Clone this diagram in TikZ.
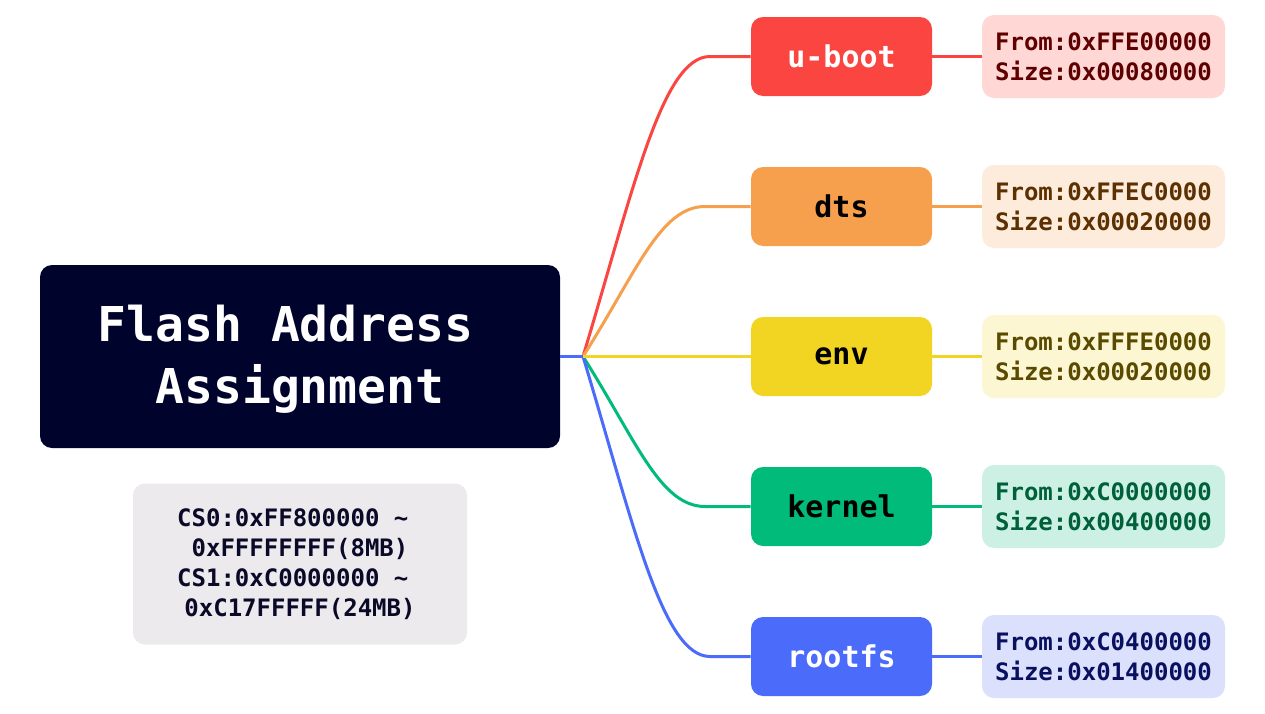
\documentclass[tikz,border=0pt]{standalone}
\usepackage{fontspec}
\setmonofont{DejaVu Sans Mono}
\begin{document}
\begin{tikzpicture}[x=0.75pt,y=-0.75pt,
  every node/.style={font=\ttfamily\bfseries, inner sep=0pt},
  rootbox/.style={fill=rootc, rounded corners=9pt, minimum width=390pt, minimum height=137.25pt},
  roottext/.style={text=white, font=\ttfamily\bfseries\fontsize{36pt}{46.5pt}\selectfont, align=center},
  childbox/.style={rounded corners=9pt, minimum width=135.75pt, minimum height=59.25pt, font=\ttfamily\bfseries\fontsize{22.5pt}{27pt}\selectfont},
  infobox/.style={rounded corners=9pt, minimum width=182.25pt, minimum height=62.25pt, font=\ttfamily\bfseries\fontsize{18pt}{22.5pt}\selectfont, align=left},
  notebox/.style={fill=notec, text=notet, rounded corners=9pt, minimum width=250.5pt, minimum height=120.75pt, font=\ttfamily\bfseries\fontsize{18pt}{22.5pt}\selectfont, align=center},
  branch/.style={line width=2.25pt},
  link/.style={line width=2.25pt}
]
\definecolor{rootc}{HTML}{00032B}
\definecolor{notec}{HTML}{ECEAED}
\definecolor{notet}{HTML}{0A0A28}
\definecolor{cA}{HTML}{FA4540}\definecolor{bA}{HTML}{FFD8D6}\definecolor{tA}{HTML}{5E0000}
\definecolor{cB}{HTML}{F6A04D}\definecolor{bB}{HTML}{FDEBDC}\definecolor{tB}{HTML}{5C3000}
\definecolor{cC}{HTML}{F2D423}\definecolor{bC}{HTML}{FCF6D3}\definecolor{tC}{HTML}{5A4A00}
\definecolor{cD}{HTML}{00BB7A}\definecolor{bD}{HTML}{CCF1E4}\definecolor{tD}{HTML}{00603A}
\definecolor{cE}{HTML}{4B6BFB}\definecolor{bE}{HTML}{DBE0FD}\definecolor{tE}{HTML}{0A1060}

\useasboundingbox[fill=white] (0,0) rectangle (1265,714);

\node[rootbox] (root) at (300,356.5) {};
\node[roottext] (rootlabel) at (300,359.5) {Flash Address\phantom{x}\\Assignment};
\node[notebox] (note) at (300,564) {CS0:0xFF800000 \textasciitilde\phantom{x}\\0xFFFFFFFF(8MB)\\CS1:0xC0000000 \textasciitilde\phantom{x}\\0xC17FFFFF(24MB)};

\coordinate (hub) at (583,356.5);

\node[childbox, fill=cA, text=white] (uboot) at (841.5,56.5) {u-boot};
\node[childbox, fill=cB, text=black] (dts) at (841.5,206.5) {dts};
\node[childbox, fill=cC, text=black] (env) at (841.5,356.5) {env};
\node[childbox, fill=cD, text=black] (kernel) at (841.5,506.5) {kernel};
\node[childbox, fill=cE, text=white] (rootfs) at (841.5,656.5) {rootfs};

\node[infobox, fill=bA, text=tA] (iA) at (1103.5,56.5) {From:0xFFE00000\\Size:0x00080000};
\node[infobox, fill=bB, text=tB] (iB) at (1103.5,206.5) {From:0xFFEC0000\\Size:0x00020000};
\node[infobox, fill=bC, text=tC] (iC) at (1103.5,356.5) {From:0xFFFE0000\\Size:0x00020000};
\node[infobox, fill=bD, text=tD] (iD) at (1103.5,506.5) {From:0xC0000000\\Size:0x00400000};
\node[infobox, fill=bE, text=tE] (iE) at (1103.5,656.5) {From:0xC0400000\\Size:0x01400000};

\coordinate (eA) at (710,56.5);
\coordinate (eB) at (705,206.5);
\coordinate (eD) at (705,506.5);
\coordinate (eE) at (710,656.5);

\draw[branch, cA] (hub) .. controls (633,191) and (662,56.5) .. (eA) -- (uboot.west);
\draw[branch, cB] (hub) .. controls (636,273) and (660,206.5) .. (eB) -- (dts.west);
\draw[branch, cD] (hub) .. controls (636,440) and (660,506.5) .. (eD) -- (kernel.west);
\draw[branch, cE] (hub) .. controls (633,522) and (662,656.5) .. (eE) -- (rootfs.west);
\draw[link, cC] (hub) -- (env.west);
\draw[link, cE] (root.east |- hub) -- (hub);

\draw[link, cA] (uboot.east) -- (iA.west);
\draw[link, cB] (dts.east) -- (iB.west);
\draw[link, cC] (env.east) -- (iC.west);
\draw[link, cD] (kernel.east) -- (iD.west);
\draw[link, cE] (rootfs.east) -- (iE.west);
\end{tikzpicture}
\end{document}
